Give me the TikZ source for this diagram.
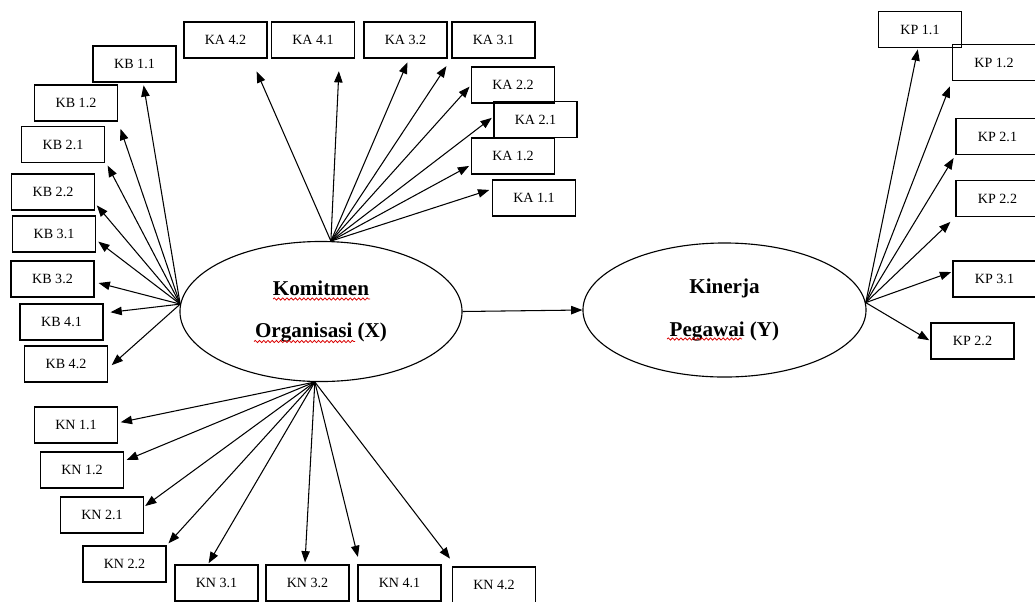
\documentclass[tikz,border=0pt]{standalone}
\usepackage{fontspec}
\setmainfont{Liberation Serif}
\usetikzlibrary{shapes, arrows.meta, positioning, decorations.pathmorphing}

\begin{document}
\begin{tikzpicture}[
  x=0.025cm, y=-0.025cm,
  ibox/.style={draw, line width=0.75pt, minimum width=2.075cm, minimum height=0.9cm, inner sep=2pt, font=\fontsize{10}{12}\selectfont},
  latent/.style={draw, ellipse, line width=0.8pt, inner sep=0pt, align=center, font=\fontsize{15}{30}\selectfont\bfseries},
  arr/.style={-{Triangle[length=8pt, width=6pt]}, line width=0.75pt},
  squiggle/.style={red!85!black, line width=0.55pt, decorate, decoration={snake, amplitude=0.8pt, segment length=3pt}}
]
  \useasboundingbox (0,0) rectangle (1035,601);

  \node[latent, minimum width=7.05cm, minimum height=3.5cm] (X) at (321,311.5) {Komitmen\\Organisasi (X)};
  \node[latent, minimum width=7.075cm, minimum height=3.35cm] (Y) at (724.5,310) {Kinerja\\Pegawai (Y)};

  \node[ibox] (kb11) at (134.5,64) {KB 1.1};
  \node[ibox] (kb12) at (76,103) {KB 1.2};
  \node[ibox] (kb21) at (63,144.5) {KB 2.1};
  \node[ibox] (kb22) at (53,192) {KB 2.2};
  \node[ibox] (kb31) at (54,234) {KB 3.1};
  \node[ibox] (kb32) at (52.5,279) {KB 3.2};
  \node[ibox] (kb41) at (61.5,322) {KB 4.1};
  \node[ibox] (kb42) at (66,364) {KB 4.2};

  \node[ibox] (ka42) at (225.5,40) {KA 4.2};
  \node[ibox] (ka41) at (313,40) {KA 4.1};
  \node[ibox] (ka32) at (405.5,40) {KA 3.2};
  \node[ibox] (ka31) at (493.5,40) {KA 3.1};
  \node[ibox] (ka22) at (513,85) {KA 2.2};
  \node[ibox] (ka21) at (535.5,119.5) {KA 2.1};
  \node[ibox] (ka12) at (513,156) {KA 1.2};
  \node[ibox] (ka11) at (534,198) {KA 1.1};

  \node[ibox] (kn11) at (76,425) {KN 1.1};
  \node[ibox] (kn12) at (82,470) {KN 1.2};
  \node[ibox] (kn21) at (102,515) {KN 2.1};
  \node[ibox] (kn22) at (124.5,564) {KN 2.2};
  \node[ibox] (kn31) at (216.5,583) {KN 3.1};
  \node[ibox] (kn32) at (307.5,583) {KN 3.2};
  \node[ibox] (kn41) at (399.5,583) {KN 4.1};
  \node[ibox] (kn42) at (494,585) {KN 4.2};

  \node[ibox] (kp11) at (920,29.5) {KP 1.1};
  \node[ibox] (kp12) at (994,62.5) {KP 1.2};
  \node[ibox] (kp21) at (997.5,136.5) {KP 2.1};
  \node[ibox] (kp22) at (997.5,198.5) {KP 2.2};
  \node[ibox] (kp31) at (994.5,279) {KP 3.1};
  \node[ibox] (kp22b) at (972.5,341) {KP 2.2};

  \draw[squiggle] (273,299) -- (370,299);
  \draw[squiggle] (254,341.5) -- (355,341.5);
  \draw[squiggle] (667,339) -- (742,339);

  \draw[arr, shorten >=2pt] (X.177) -- (kb11.-65);
  \draw[arr, shorten >=5.5pt] (X.177) -- (kb12.south east);
  \draw[arr, shorten >=4pt] (X.177) -- (kb21.-21);
  \draw[arr, shorten >=2pt] (X.177) -- (kb22.-15);
  \draw[arr, shorten >=2pt] (X.177) -- (kb31.-8);
  \draw[arr, shorten >=3pt] (X.177) -- (kb32.-4);
  \draw[arr, shorten >=5pt] (X.177) -- (kb41.12);
  \draw[arr, shorten >=3.5pt] (X.177) -- (kb42.-6);

  \draw[arr, shorten >=10pt] (X.82) -- (ka42.-36);
  \draw[arr, shorten >=9pt] (X.82) -- (ka41.-35);
  \draw[arr, shorten >=3pt] (X.82) -- (ka32.-79);
  \draw[arr, shorten >=6.5pt] (X.82) -- (ka31.south west);
  \draw[arr, shorten >=1.5pt] (X.82) -- (ka22.west);
  \draw[arr, shorten >=1.5pt] (X.82) -- (ka21.176);
  \draw[arr, shorten >=1.5pt] (X.82) -- (ka12.192);
  \draw[arr, shorten >=2pt] (X.82) -- (ka11.168);

  \draw[arr, shorten >=2pt] (X.265) -- (kn11.3);
  \draw[arr, shorten >=2pt] (X.265) -- (kn12.12);
  \draw[arr, shorten >=1pt] (X.265) -- (kn21.11);
  \draw[arr, shorten >=2pt] (X.265) -- (kn22.north east);
  \draw[arr, shorten >=1pt] (X.265) -- (kn31.115);
  \draw[arr, shorten >=1.5pt] (X.265) -- (kn32.98);
  \draw[arr, shorten >=5.5pt] (X.265) -- (kn41.155);
  \draw[arr, shorten >=7pt] (X.265) -- (kn42.154);

  \draw[arr] (X.east) -- (Y.west);

  \draw[arr, shorten >=1pt] (Y.3) -- (kp11.-96);
  \draw[arr, shorten >=4pt] (Y.3) -- (kp12.south west);
  \draw[arr, shorten >=2.5pt] (Y.3) -- (kp21.south west);
  \draw[arr, shorten >=5pt] (Y.3) -- (kp22.south west);
  \draw[arr, shorten >=1pt] (Y.3) -- (kp31.170);
  \draw[arr, shorten >=1pt] (Y.3) -- (kp22b.west);
\end{tikzpicture}
\end{document}
